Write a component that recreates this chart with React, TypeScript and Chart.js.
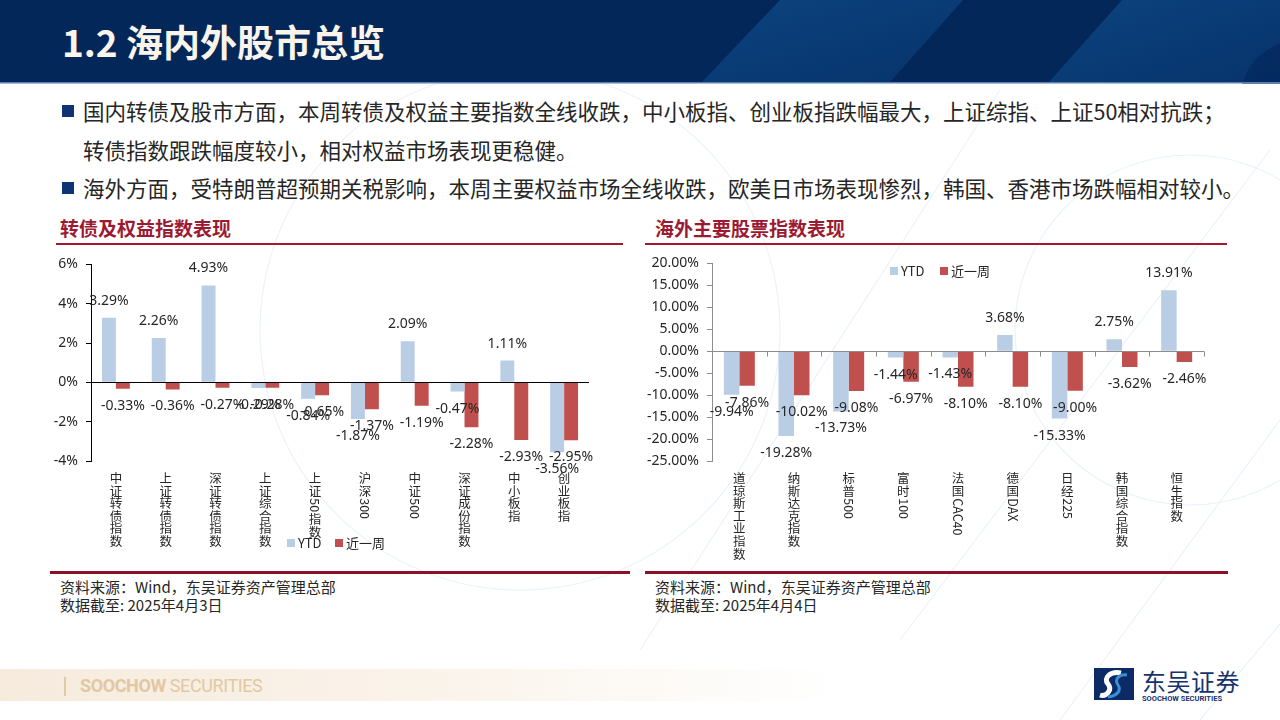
import React, { useEffect, useRef } from 'react';
import { Chart, registerables } from 'chart.js';

Chart.register(...registerables);

// ---------- DATA ----------
const seriesNames = ['YTD', '近一周'];

const domesticCategories = ['中证转债指数', '上证转债指数', '深证转债指数', '上证综合指数', '上证50指数', '沪深300', '中证500', '深证成份指数', '中小板指', '创业板指'];
const domesticYTD = [3.29, 2.26, 4.93, -0.29, -0.84, -1.87, 2.09, -0.47, 1.11, -3.56];
const domesticWeek = [-0.33, -0.36, -0.27, -0.28, -0.65, -1.37, -1.19, -2.28, -2.93, -2.95];
const domesticTicks = [6, 4, 2, 0, -2, -4];

const overseasCategories = ['道琼斯工业指数', '纳斯达克指数', '标普500', '富时100', '法国CAC40', '德国DAX', '日经225', '韩国综合指数', '恒生指数'];
const overseasYTD = [-9.94, -19.28, -13.73, -1.44, -1.43, 3.68, -15.33, 2.75, 13.91];
const overseasWeek = [-7.86, -10.02, -9.08, -6.97, -8.1, -8.1, -9.0, -3.62, -2.46];
const overseasTicks = [20, 15, 10, 5, 0, -5, -10, -15, -20, -25];

const COLOR_YTD = '#B9CDE5';
const COLOR_WEEK = '#C0504D';
const CJK_FONT = '"Noto Sans CJK SC", "Noto Sans", sans-serif';
const NUM_FONT = '"Noto Sans", "Noto Sans CJK SC", sans-serif';

function drawVerticalLabel(ctx: CanvasRenderingContext2D, text: string, x: number, yStart: number, step: number) {
  const runs = text.match(/[\u4e00-\u9fff]|[A-Za-z0-9]+/g) || [];
  let y = yStart;
  for (const r of runs) {
    if (/[\u4e00-\u9fff]/.test(r)) {
      ctx.textAlign = 'center';
      ctx.textBaseline = 'top';
      ctx.fillText(r, x, y);
      y += step;
    } else {
      const w = ctx.measureText(r).width;
      ctx.save();
      ctx.translate(x, y + 1);
      ctx.rotate(Math.PI / 2);
      ctx.textAlign = 'left';
      ctx.textBaseline = 'middle';
      ctx.fillText(r, 0, 0);
      ctx.restore();
      y += w + 2;
    }
  }
}

const decorPlugin = {
  id: 'decor',
  afterDatasetsDraw(chart: any, _args: any, opts: any) {
    const ctx: CanvasRenderingContext2D = chart.ctx;
    const xs = chart.scales.x;
    const ys = chart.scales.y;
    const area = chart.chartArea;
    const y0 = ys.getPixelForValue(0);
    ctx.save();
    // zero line
    ctx.strokeStyle = opts.axisColor;
    ctx.lineWidth = 1;
    ctx.beginPath();
    ctx.moveTo(area.left, Math.round(y0) + 0.5);
    ctx.lineTo(area.right, Math.round(y0) + 0.5);
    ctx.stroke();
    if (opts.catTicks) {
      const n = chart.data.labels.length;
      const w = (area.right - area.left) / n;
      for (let i = 0; i <= n; i++) {
        const x = Math.round(area.left + i * w) + 0.5;
        ctx.beginPath();
        ctx.moveTo(x, Math.round(y0) + 0.5);
        ctx.lineTo(x, Math.round(y0) + 5.5);
        ctx.stroke();
      }
    }
    // data labels
    ctx.fillStyle = '#262626';
    ctx.font = `14px ${NUM_FONT}`;
    ctx.textAlign = 'center';
    ctx.textBaseline = 'middle';
    chart.data.datasets.forEach((ds: any, di: number) => {
      const meta = chart.getDatasetMeta(di);
      meta.data.forEach((bar: any, i: number) => {
        const v = ds.data[i];
        const y = v >= 0 ? bar.y - opts.labelOffset : bar.y + opts.labelOffset;
        ctx.fillText(v.toFixed(2) + '%', bar.x, y);
      });
    });
    // category labels
    ctx.fillStyle = '#262626';
    ctx.font = `12.5px ${CJK_FONT}`;
    chart.data.labels.forEach((lab: string, i: number) => {
      const x = xs.getPixelForValue(i);
      drawVerticalLabel(ctx, lab, x, area.bottom + opts.labelTop, 12.6);
    });
    // legend
    const lg = opts.legend;
    ctx.textAlign = 'left';
    ctx.textBaseline = 'middle';
    chart.data.datasets.forEach((ds: any, di: number) => {
      const lx = lg.x[di];
      ctx.fillStyle = ds.backgroundColor;
      ctx.fillRect(lx, lg.y - 4, 8, 8);
      ctx.fillStyle = '#262626';
      ctx.font = `13px ${CJK_FONT}`;
      ctx.fillText(ds.label, lx + 11, lg.y);
    });
    ctx.restore();
  },
};

interface BarChartProps {
  categories: string[];
  ytd: number[];
  week: number[];
  ticks: number[];
  width: number;
  height: number;
  yAxisWidth: number;
  padRight: number;
  padBottom: number;
  axisColor: string;
  catTicks: boolean;
  tickDecimals: number;
  barPct: number;
  legend: { x: number[]; y: number };
}

function BarChart(p: BarChartProps) {
  const ref = useRef<HTMLCanvasElement | null>(null);
  useEffect(() => {
    if (!ref.current) return;
    const min = Math.min(...p.ticks);
    const max = Math.max(...p.ticks);
    const step = Math.abs(p.ticks[0] - p.ticks[1]);
    const chart = new Chart(ref.current, {
      type: 'bar',
      data: {
        labels: p.categories,
        datasets: [
          { label: seriesNames[0], data: p.ytd, backgroundColor: COLOR_YTD, borderWidth: 0, categoryPercentage: p.barPct, barPercentage: 1 },
          { label: seriesNames[1], data: p.week, backgroundColor: COLOR_WEEK, borderWidth: 0, categoryPercentage: p.barPct, barPercentage: 1 },
        ],
      },
      options: {
        responsive: false,
        animation: false,
        layout: { padding: { top: 9, right: p.padRight, bottom: p.padBottom, left: 0 } },
        plugins: {
          legend: { display: false },
          tooltip: { enabled: false },
          decor: {
            axisColor: p.axisColor,
            catTicks: p.catTicks,
            labelOffset: 17,
            labelTop: 11,
            legend: p.legend,
          },
        } as any,
        scales: {
          x: { display: false },
          y: {
            min,
            max,
            afterFit: (s: any) => {
              s.width = p.yAxisWidth;
            },
            ticks: {
              stepSize: step,
              padding: 8,
              color: '#262626',
              font: { size: 14, family: NUM_FONT },
              callback: (v: any) => Number(v).toFixed(p.tickDecimals) + '%',
            },
            grid: { drawOnChartArea: false, drawTicks: true, tickLength: 5, color: p.axisColor },
            border: { display: true, color: p.axisColor, width: 1 },
          },
        },
      },
      plugins: [decorPlugin],
    } as any);
    return () => chart.destroy();
  }, []);
  return <canvas ref={ref} width={p.width} height={p.height} style={{ width: p.width, height: p.height, display: 'block' }} />;
}

const abs = (s: React.CSSProperties): React.CSSProperties => ({ position: 'absolute', ...s });

export default function App() {
  const bodyText: React.CSSProperties = { fontFamily: CJK_FONT, fontSize: 21.5, color: '#262626', whiteSpace: 'nowrap', lineHeight: '30px', height: 30 };
  const titleText: React.CSSProperties = { fontFamily: CJK_FONT, fontSize: 19, fontWeight: 700, color: '#9B1A31', whiteSpace: 'nowrap', lineHeight: '24px' };
  const srcText: React.CSSProperties = { fontFamily: CJK_FONT, fontSize: 15, color: '#262626', whiteSpace: 'nowrap', lineHeight: '18px' };
  return (
    <div style={{ position: 'absolute', left: 0, top: 0, width: 1280, height: 720, background: '#fff', overflow: 'hidden' }}>
      {/* faint background decoration */}
      <svg width={1280} height={720} style={{ position: 'absolute', left: 0, top: 0 }}>
        <g stroke="#EAF3FB" strokeWidth={1.2} fill="none">
          <line x1={640} y1={650} x2={1000} y2={90} />
          <line x1={900} y1={640} x2={1270} y2={150} />
          <line x1={1060} y1={720} x2={1280} y2={420} />
          <line x1={1200} y1={720} x2={1300} y2={600} />
          <circle cx={1190} cy={330} r={175} />
          <circle cx={520} cy={330} r={260} />
        </g>
      </svg>

      {/* header */}
      <svg width={1280} height={84} style={{ position: 'absolute', left: 0, top: 0 }}>
        <defs>
          <linearGradient id="st1" x1="0" y1="0" x2="1" y2="1">
            <stop offset="0" stopColor="#0C437F" />
            <stop offset="1" stopColor="#07336B" />
          </linearGradient>
        </defs>
        <rect x={0} y={0} width={1280} height={82} fill="#04275A" />
        <polygon points="780,0 963,0 890,82 702,82" fill="url(#st1)" />
        <polygon points="1122,0 1280,0 1280,82 1049,82" fill="url(#st1)" />
        <circle cx={1300} cy={100} r={60} fill="#04275A" opacity={0.6} />
        <rect x={0} y={82} width={1280} height={1.5} fill="#5A7FB0" />
      </svg>
      <div style={abs({ left: 62, top: 19, fontFamily: CJK_FONT, fontSize: 37, fontWeight: 700, color: '#FBF4EA', whiteSpace: 'nowrap', lineHeight: '44px' })}>
        1.2 海内外股市总览
      </div>

      {/* bullets */}
      <div style={abs({ left: 62, top: 105, width: 12, height: 12, background: '#0E3474' })} />
      <div style={abs({ left: 83, top: 96, ...bodyText })}>国内转债及股市方面，本周转债及权益主要指数全线收跌，中小板指、创业板指跌幅最大，上证综指、上证50相对抗跌；</div>
      <div style={abs({ left: 83, top: 135, ...bodyText })}>转债指数跟跌幅度较小，相对权益市场表现更稳健。</div>
      <div style={abs({ left: 62, top: 182, width: 12, height: 12, background: '#0E3474' })} />
      <div style={abs({ left: 83, top: 173, ...bodyText })}>海外方面，受特朗普超预期关税影响，本周主要权益市场全线收跌，欧美日市场表现惨烈，韩国、香港市场跌幅相对较小。</div>

      {/* chart titles */}
      <div style={abs({ left: 60, top: 216, ...titleText })}>转债及权益指数表现</div>
      <div style={abs({ left: 56, top: 243, width: 567, height: 2, background: '#A3192F' })} />
      <div style={abs({ left: 655, top: 216, ...titleText })}>海外主要股票指数表现</div>
      <div style={abs({ left: 645, top: 243, width: 582, height: 2, background: '#A3192F' })} />

      {/* charts */}
      <div style={abs({ left: 50, top: 248 })}>
        <BarChart
          categories={domesticCategories}
          ytd={domesticYTD}
          week={domesticWeek}
          ticks={domesticTicks}
          width={580}
          height={322}
          yAxisWidth={41}
          padRight={41}
          padBottom={109}
          axisColor="#000000"
          catTicks={false}
          tickDecimals={0}
          barPct={0.56}
          legend={{ x: [237, 285], y: 295 }}
        />
      </div>
      <div style={abs({ left: 645, top: 247 })}>
        <BarChart
          categories={overseasCategories}
          ytd={overseasYTD}
          week={overseasWeek}
          ticks={overseasTicks}
          width={585}
          height={323}
          yAxisWidth={67}
          padRight={26}
          padBottom={109}
          axisColor="#8C8C8C"
          catTicks={true}
          tickDecimals={2}
          barPct={0.567}
          legend={{ x: [245, 295], y: 24 }}
        />
      </div>

      {/* bottom rules + source */}
      <div style={abs({ left: 50, top: 571, width: 580, height: 3, background: '#8E0F26' })} />
      <div style={abs({ left: 645, top: 571, width: 583, height: 3, background: '#8E0F26' })} />
      <div style={abs({ left: 60, top: 578, ...srcText })}>资料来源：Wind，东吴证券资产管理总部</div>
      <div style={abs({ left: 60, top: 596, ...srcText })}>数据截至: 2025年4月3日</div>
      <div style={abs({ left: 655, top: 578, ...srcText })}>资料来源：Wind，东吴证券资产管理总部</div>
      <div style={abs({ left: 655, top: 596, ...srcText })}>数据截至: 2025年4月4日</div>

      {/* footer */}
      <div style={abs({ left: 0, top: 669, width: 840, height: 32, background: 'linear-gradient(90deg, #F6EBDD 0%, #FAF3EA 50%, rgba(255,255,255,0) 100%)' })} />
      <div style={abs({ left: 64, top: 677, width: 2, height: 19, background: '#E3C9A4' })} />
      <div style={abs({ left: 80, top: 674, fontFamily: 'Roboto, sans-serif', fontSize: 18, color: '#E2C8A2', whiteSpace: 'nowrap', lineHeight: '24px', letterSpacing: -0.4 })}>
        <span style={{ fontWeight: 700 }}>SOOCHOW</span> SECURITIES
      </div>
      <svg width={42} height={34} style={{ position: 'absolute', left: 1094, top: 668 }}>
        <rect x={0} y={0} width={40} height={32} fill="#0B2A66" />
        <path d="M27 5 C16 3 9 10 14 16 C19 22 12 29 6 27" stroke="#FFFFFF" strokeWidth={5} fill="none" />
        <path d="M33 7 C25 6 20 11 24 17 C28 23 22 28 14 29" stroke="#3A8ED6" strokeWidth={3} fill="none" />
      </svg>
      <div style={abs({ left: 1142, top: 668, fontFamily: CJK_FONT, fontSize: 24, color: '#16336E', whiteSpace: 'nowrap', lineHeight: '26px', letterSpacing: 0.5 })}>东吴证券</div>
      <div style={abs({ left: 1142, top: 694, fontFamily: 'Roboto, sans-serif', fontSize: 7.5, fontWeight: 700, color: '#16336E', whiteSpace: 'nowrap', lineHeight: '9px' })}>SOOCHOW SECURITIES</div>
    </div>
  );
}
